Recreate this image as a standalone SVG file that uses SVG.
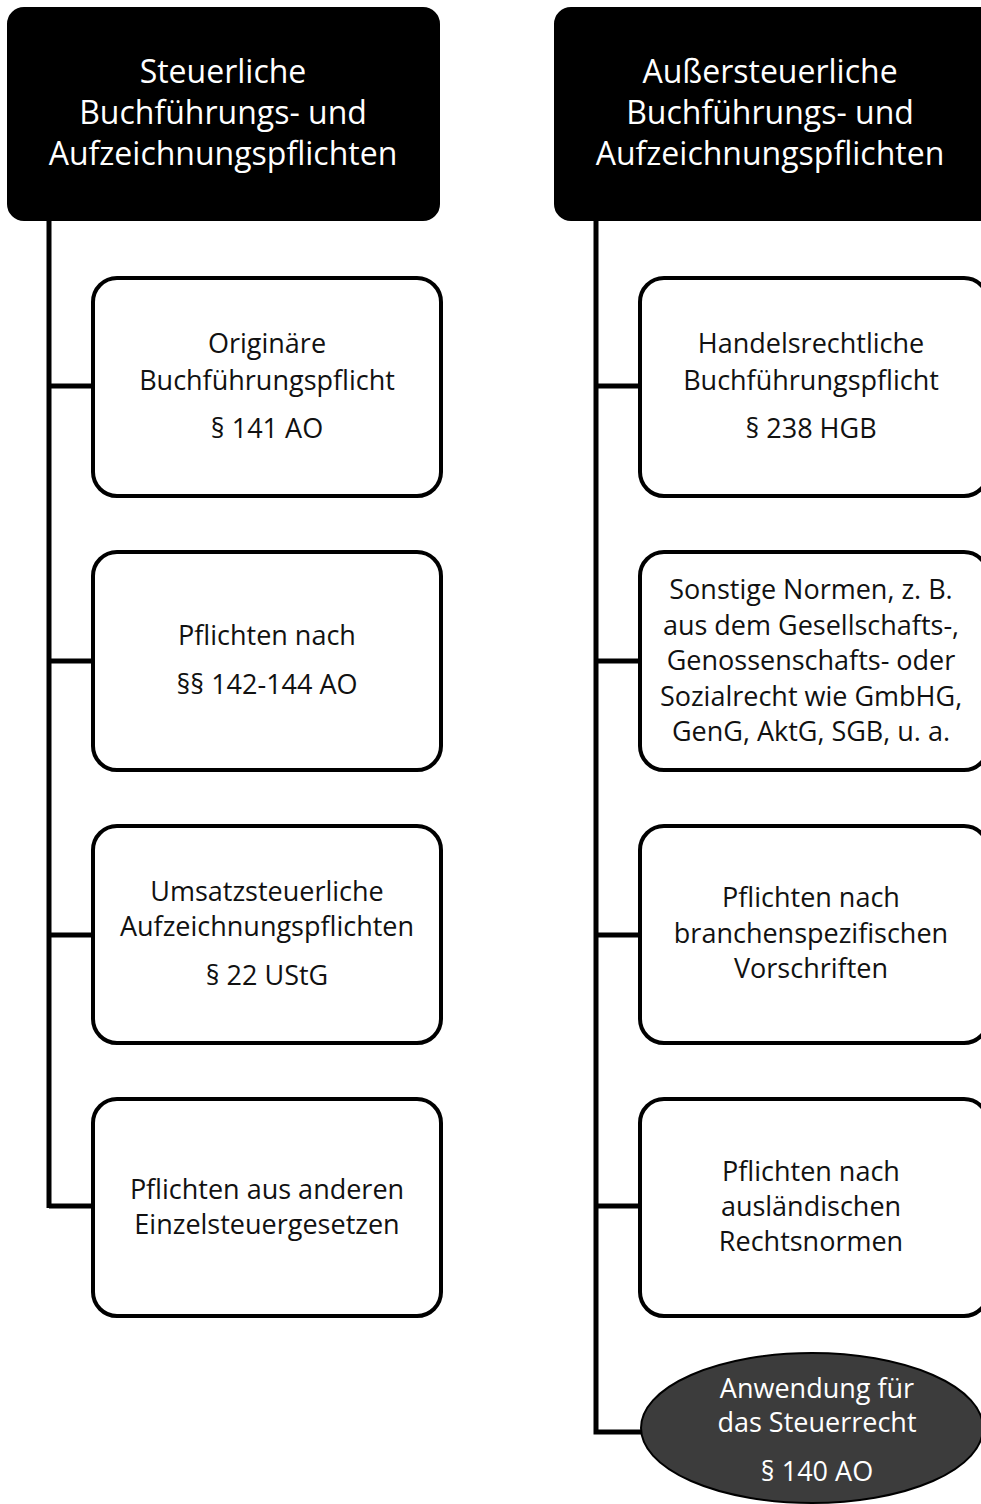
<svg xmlns="http://www.w3.org/2000/svg" width="981" height="1504" viewBox="0 0 981 1504">
<style>
.hdr{fill:#000;stroke:#000;stroke-width:2}
.box{fill:#fff;stroke:#000;stroke-width:4}
.ht{font-family:"Open Sans","Noto Sans",sans-serif;font-size:32px;fill:#fff;text-anchor:middle}
.bt{font-family:"Open Sans","Noto Sans",sans-serif;font-size:27px;fill:#111;text-anchor:middle}
.et{font-family:"Open Sans","Noto Sans",sans-serif;font-size:27px;fill:#fff;text-anchor:middle}
.ln{stroke:#000;stroke-width:5;fill:none}
</style>
<rect width="981" height="1504" fill="#fff"/>
<g id="connectors">
<path class="ln" d="M49 220V1208M49 386H94M49 661H94M49 935H94M49 1206H94"/>
<path class="ln" d="M596 220V1432H643M596 386H641M596 661H641M596 935H641M596 1206H641"/>
</g>
<g id="hdr-left">
<rect class="hdr" x="8" y="8" width="431" height="212" rx="16"/>
<text class="ht" x="223" y="83">Steuerliche</text>
<text class="ht" x="223" y="124">Buchführungs- und</text>
<text class="ht" x="223" y="165">Aufzeichnungspflichten</text>
</g>
<g id="hdr-right">
<rect class="hdr" x="555" y="8" width="440" height="212" rx="16"/>
<text class="ht" x="770" y="83">Außersteuerliche</text>
<text class="ht" x="770" y="124">Buchführungs- und</text>
<text class="ht" x="770" y="165">Aufzeichnungspflichten</text>
</g>
<g id="l1">
<rect class="box" x="93" y="278" width="348" height="218" rx="24"/>
<text class="bt" x="267" y="353">Originäre</text>
<text class="bt" x="267" y="390">Buchführungspflicht</text>
<text class="bt" x="267" y="438">§ 141 AO</text>
</g>
<g id="l2">
<rect class="box" x="93" y="552" width="348" height="218" rx="24"/>
<text class="bt" x="267" y="645">Pflichten nach</text>
<text class="bt" x="267" y="694">§§ 142-144 AO</text>
</g>
<g id="l3">
<rect class="box" x="93" y="826" width="348" height="217" rx="24"/>
<text class="bt" x="267" y="901">Umsatzsteuerliche</text>
<text class="bt" x="267" y="936">Aufzeichnungspflichten</text>
<text class="bt" x="267" y="985">§ 22 UStG</text>
</g>
<g id="l4">
<rect class="box" x="93" y="1099" width="348" height="217" rx="24"/>
<text class="bt" x="267" y="1199">Pflichten aus anderen</text>
<text class="bt" x="267" y="1234">Einzelsteuergesetzen</text>
</g>
<g id="r1">
<rect class="box" x="640" y="278" width="348" height="218" rx="24"/>
<text class="bt" x="811" y="353">Handelsrechtliche</text>
<text class="bt" x="811" y="390">Buchführungspflicht</text>
<text class="bt" x="811" y="438">§ 238 HGB</text>
</g>
<g id="r2">
<rect class="box" x="640" y="552" width="348" height="218" rx="24"/>
<text class="bt" x="811" y="599">Sonstige Normen, z. B.</text>
<text class="bt" x="811" y="635">aus dem Gesellschafts-,</text>
<text class="bt" x="811" y="670">Genossenschafts- oder</text>
<text class="bt" x="811" y="706">Sozialrecht wie GmbHG,</text>
<text class="bt" x="811" y="741">GenG, AktG, SGB, u. a.</text>
</g>
<g id="r3">
<rect class="box" x="640" y="826" width="348" height="217" rx="24"/>
<text class="bt" x="811" y="907">Pflichten nach</text>
<text class="bt" x="811" y="943">branchenspezifischen</text>
<text class="bt" x="811" y="978">Vorschriften</text>
</g>
<g id="r4">
<rect class="box" x="640" y="1099" width="348" height="217" rx="24"/>
<text class="bt" x="811" y="1181">Pflichten nach</text>
<text class="bt" x="811" y="1216">ausländischen</text>
<text class="bt" x="811" y="1251">Rechtsnormen</text>
</g>
<g id="ellipse">
<ellipse cx="812" cy="1428" rx="171" ry="75" fill="#3c3c3c" stroke="#000" stroke-width="2"/>
<text class="et" x="817" y="1398">Anwendung für</text>
<text class="et" x="817" y="1432">das Steuerrecht</text>
<text class="et" x="817" y="1481">§ 140 AO</text>
</g>
</svg>
